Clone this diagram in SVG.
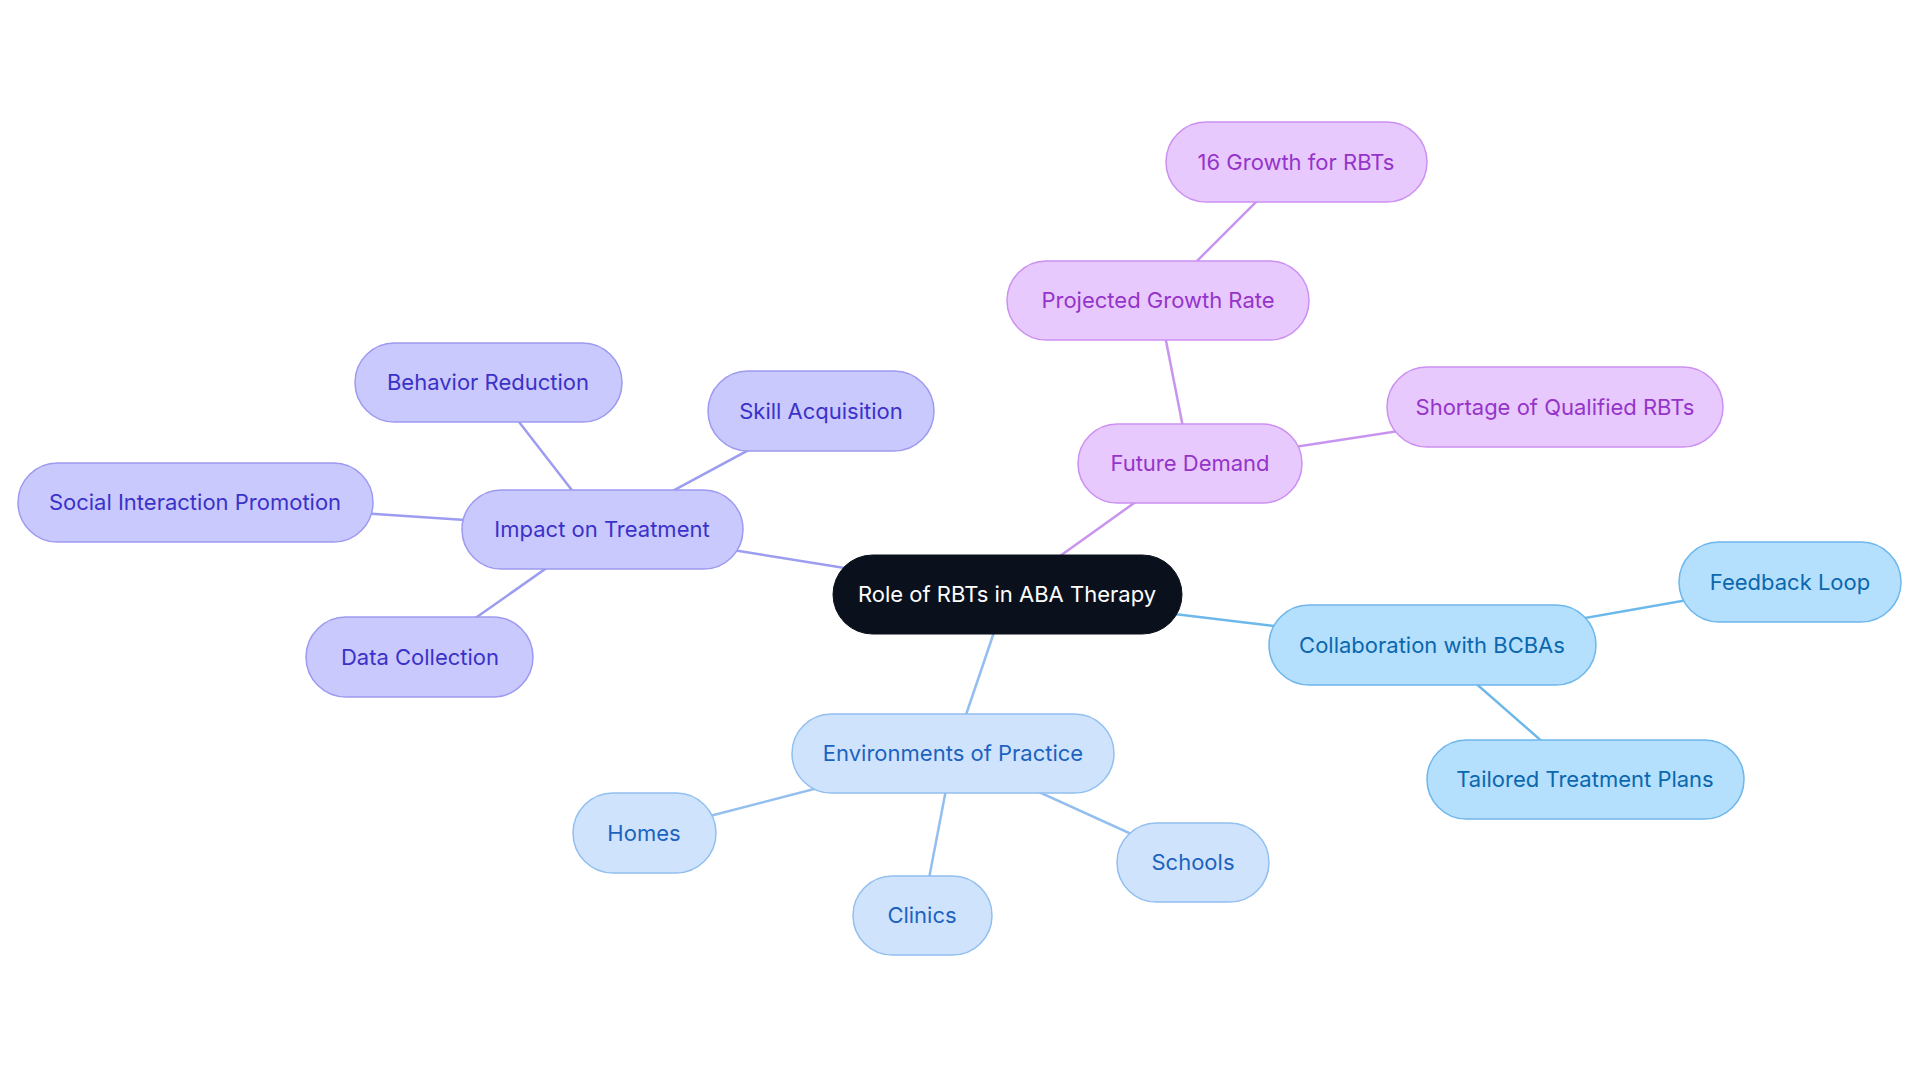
<svg xmlns="http://www.w3.org/2000/svg" width="1920" height="1083" viewBox="0 0 1920 1083">
<style>
text{font-family:Inter,"Noto Sans",sans-serif;font-size:22px;text-anchor:middle;dominant-baseline:central}
.p rect{fill:#cac9fd;stroke:#9d9af0;stroke-width:1.5}.p text{fill:#3a32c8}
.k rect{fill:#e8c9fd;stroke:#cc90f2;stroke-width:1.5}.k text{fill:#9534c9}
.l rect{fill:#cfe4fc;stroke:#92bff0;stroke-width:1.5}.l text{fill:#1d62c0}
.b rect{fill:#b4dffd;stroke:#6db7ec;stroke-width:1.5}.b text{fill:#0b67ae}
#edges line{stroke-width:2.5}
.ep{stroke:#9c9df0}.ek{stroke:#c994f0}.el{stroke:#93bef0}.eb{stroke:#6cb8ea}
</style>
<rect width="1920" height="1083" fill="#fff"/>
<g id="edges">
<line class="ep" x1="1007" y1="594" x2="602" y2="529"/>
<line class="ep" x1="602" y1="529" x2="488" y2="382"/>
<line class="ep" x1="602" y1="529" x2="821" y2="411"/>
<line class="ep" x1="602" y1="529" x2="195" y2="502"/>
<line class="ep" x1="602" y1="529" x2="420" y2="657"/>
<line class="ek" x1="1007" y1="594" x2="1190" y2="463"/>
<line class="ek" x1="1190" y1="463" x2="1158" y2="300"/>
<line class="ek" x1="1158" y1="300" x2="1296" y2="162"/>
<line class="ek" x1="1190" y1="463" x2="1555" y2="407"/>
<line class="eb" x1="1007" y1="594" x2="1432" y2="645"/>
<line class="eb" x1="1432" y1="645" x2="1790" y2="582"/>
<line class="eb" x1="1432" y1="645" x2="1585" y2="779"/>
<line class="el" x1="1007" y1="594" x2="953" y2="753"/>
<line class="el" x1="953" y1="753" x2="644" y2="833"/>
<line class="el" x1="953" y1="753" x2="922" y2="915"/>
<line class="el" x1="953" y1="753" x2="1193" y2="862"/>
</g>
<g id="center"><rect x="833" y="555" width="349" height="79" rx="39.5" fill="#0b111c" stroke="#0b111c"/><text x="1007" y="594" fill="#fff">Role of RBTs in ABA Therapy</text></g>
<g id="impact" class="p"><rect x="462" y="490" width="281" height="79" rx="39.5"/><text x="602" y="529">Impact on Treatment</text></g>
<g id="behavior" class="p"><rect x="355" y="343" width="267" height="79" rx="39.5"/><text x="488" y="382">Behavior Reduction</text></g>
<g id="skill" class="p"><rect x="708" y="371" width="226" height="80" rx="40"/><text x="821" y="411">Skill Acquisition</text></g>
<g id="social" class="p"><rect x="18" y="463" width="355" height="79" rx="39.5"/><text x="195" y="502">Social Interaction Promotion</text></g>
<g id="data" class="p"><rect x="306" y="617" width="227" height="80" rx="40"/><text x="420" y="657">Data Collection</text></g>
<g id="future" class="k"><rect x="1078" y="424" width="224" height="79" rx="39.5"/><text x="1190" y="463">Future Demand</text></g>
<g id="projected" class="k"><rect x="1007" y="261" width="302" height="79" rx="39.5"/><text x="1158" y="300">Projected Growth Rate</text></g>
<g id="growth" class="k"><rect x="1166" y="122" width="261" height="80" rx="40"/><text x="1296" y="162">16 Growth for RBTs</text></g>
<g id="shortage" class="k"><rect x="1387" y="367" width="336" height="80" rx="40"/><text x="1555" y="407">Shortage of Qualified RBTs</text></g>
<g id="collab" class="b"><rect x="1269" y="605" width="327" height="80" rx="40"/><text x="1432" y="645">Collaboration with BCBAs</text></g>
<g id="feedback" class="b"><rect x="1679" y="542" width="222" height="80" rx="40"/><text x="1790" y="582">Feedback Loop</text></g>
<g id="tailored" class="b"><rect x="1427" y="740" width="317" height="79" rx="39.5"/><text x="1585" y="779">Tailored Treatment Plans</text></g>
<g id="env" class="l"><rect x="792" y="714" width="322" height="79" rx="39.5"/><text x="953" y="753">Environments of Practice</text></g>
<g id="homes" class="l"><rect x="573" y="793" width="143" height="80" rx="40"/><text x="644" y="833">Homes</text></g>
<g id="clinics" class="l"><rect x="853" y="876" width="139" height="79" rx="39.5"/><text x="922" y="915">Clinics</text></g>
<g id="schools" class="l"><rect x="1117" y="823" width="152" height="79" rx="39.5"/><text x="1193" y="862">Schools</text></g>
</svg>
